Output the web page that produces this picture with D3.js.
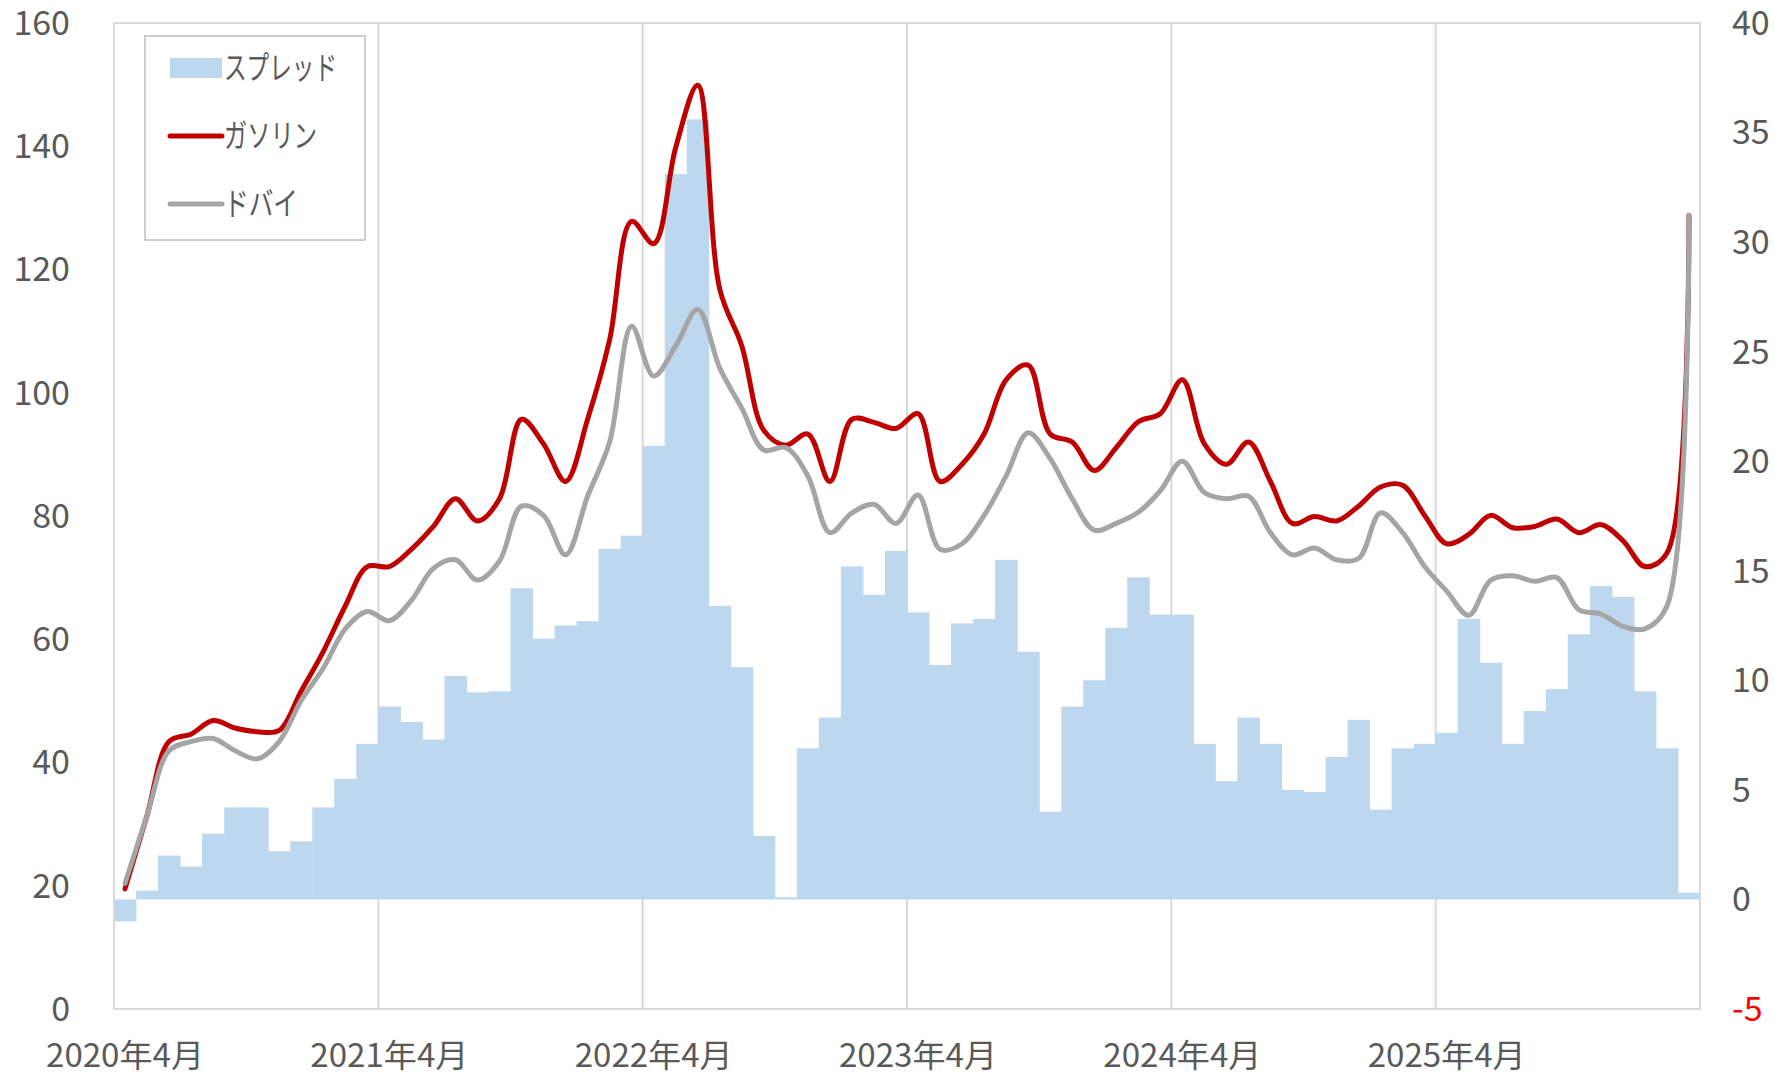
<!DOCTYPE html>
<html>
<head>
<meta charset="utf-8">
<script src="https://cdn.jsdelivr.net/npm/d3@7"></script>
<style>
body { margin: 0; background: #fff; }
text { font-family: "Noto Sans CJK JP", "Noto Sans", sans-serif; fill: #595959; }
</style>
</head>
<body>
<script>
var width = 1775;
var height = 1077;

// months Apr 2020 .. Mar 2026
var months = d3.range(72).map(i => new Date(2020, 3 + i, 1));
var tickLabels = ["2020年4月", "2021年4月", "2022年4月", "2023年4月", "2024年4月", "2025年4月"];

var spread = [
	-1.0, 0.4, 2.0, 1.5, 3.0, 4.2, 4.2, 2.2, 2.65, 4.2, 5.5, 7.1,
	8.8, 8.1, 7.3, 10.2, 9.45, 9.5, 14.2, 11.9, 12.5, 12.7, 16.0, 16.6,
	20.7, 33.1, 35.6, 13.4, 10.6, 2.9, 0.1, 6.9, 8.3, 15.2, 13.9, 15.9,
	13.1, 10.7, 12.6, 12.8, 15.5, 11.3, 4.0, 8.8, 10.0, 12.4, 14.7, 13.0,
	13.0, 7.1, 5.4, 8.3, 7.1, 5.0, 4.9, 6.5, 8.2, 4.1, 6.9, 7.1,
	7.6, 12.8, 10.8, 7.1, 8.6, 9.6, 12.1, 14.3, 13.8, 9.5, 6.9, 0.3
];

var gasoline = [
	19.5, 31.4, 43.4, 44.6, 46.8, 45.6, 45.0, 45.2, 51.6, 58.0, 65.4, 71.8,
	71.8, 74.6, 78.3, 82.8, 79.2, 82.8, 95.7, 91.7, 85.6, 95.7, 108.6, 127.8,
	124.2, 139.8, 149.9, 116.8, 107.6, 93.9, 91.5, 93.3, 85.6, 95.7, 95.2, 94.2,
	96.6, 85.6, 88.4, 93.3, 102.1, 104.5, 93.3, 92.0, 87.4, 91.1, 95.3, 96.6,
	102.1, 91.7, 88.4, 92.0, 85.6, 78.8, 79.9, 79.2, 81.6, 84.7, 85.0, 80.1,
	75.5, 77.0, 80.1, 78.1, 78.3, 79.5, 77.3, 78.6, 76.0, 71.8, 74.0, 128.8
];

var dubai = [
	20.4, 31.4, 41.9, 43.4, 43.9, 41.9, 40.6, 43.4, 50.1, 55.3, 61.7, 64.5,
	63.0, 66.3, 71.5, 72.9, 69.6, 72.7, 81.6, 80.1, 73.7, 83.2, 92.0, 110.8,
	102.7, 107.6, 113.5, 104.0, 97.5, 90.7, 91.1, 86.5, 77.3, 80.5, 81.9, 78.8,
	83.4, 74.6, 75.5, 80.1, 86.5, 93.5, 89.3, 82.8, 77.7, 78.8, 80.6, 84.1,
	88.9, 83.8, 82.8, 83.2, 77.3, 73.7, 74.8, 72.9, 73.1, 80.5, 77.3, 71.8,
	67.8, 63.9, 69.6, 70.3, 69.4, 70.0, 64.8, 64.1, 62.1, 61.7, 65.4, 128.8
];

var leftTicks = [0, 20, 40, 60, 80, 100, 120, 140, 160];
var rightTicks = [-5, 0, 5, 10, 15, 20, 25, 30, 35, 40];

var margin = {left: 114, top: 23, right: 75, bottom: 68};
var plotW = width - margin.left - margin.right;
var plotH = height - margin.top - margin.bottom;

var svg = d3.select("body")
	.append("svg")
	.attr("width", width)
	.attr("height", height);

var g = svg.append("g")
	.attr("transform", "translate(" + margin.left + "," + margin.top + ")");

var x = d3.scaleBand()
	.domain(d3.range(72))
	.range([0, plotW])
	.padding(0);

var yL = d3.scaleLinear().domain([0, 160]).range([plotH, 0]);
var yR = d3.scaleLinear().domain([-5, 40]).range([plotH, 0]);

// vertical grid at year boundaries
g.append("g")
	.selectAll("line")
	.data([12, 24, 36, 48, 60])
	.enter()
	.append("line")
	.attr("x1", d => x(d))
	.attr("x2", d => x(d))
	.attr("y1", 0)
	.attr("y2", plotH)
	.attr("stroke", "#D9D9D9")
	.attr("stroke-width", 2);

// spread bars
g.append("g")
	.selectAll("rect")
	.data(spread)
	.enter()
	.append("rect")
	.attr("x", (d, i) => x(i))
	.attr("width", x.bandwidth() + 0.5)
	.attr("y", d => Math.min(yR(d), yR(0)))
	.attr("height", d => Math.abs(yR(d) - yR(0)))
	.attr("fill", "#BDD7EE");

// plot border
g.append("rect")
	.attr("x", 0)
	.attr("y", 0)
	.attr("width", plotW)
	.attr("height", plotH)
	.attr("fill", "none")
	.attr("stroke", "#D9D9D9")
	.attr("stroke-width", 2);

var line = d3.line()
	.x((d, i) => x(i) + x.bandwidth() / 2)
	.y(d => yL(d))
	.curve(d3.curveCatmullRom.alpha(0.5));

g.append("path")
	.datum(gasoline)
	.attr("d", line)
	.attr("fill", "none")
	.attr("stroke", "#C00000")
	.attr("stroke-width", 5)
	.attr("stroke-linecap", "round")
	.attr("stroke-linejoin", "round");

g.append("path")
	.datum(dubai)
	.attr("d", line)
	.attr("fill", "none")
	.attr("stroke", "#A5A5A5")
	.attr("stroke-width", 5)
	.attr("stroke-linecap", "round")
	.attr("stroke-linejoin", "round");

// left axis labels
g.append("g")
	.selectAll("text")
	.data(leftTicks)
	.enter()
	.append("text")
	.attr("x", -44)
	.attr("y", d => yL(d))
	.attr("dy", "0.35em")
	.attr("text-anchor", "end")
	.attr("font-size", 34)
	.text(d => d);

// right axis labels
g.append("g")
	.selectAll("text")
	.data(rightTicks)
	.enter()
	.append("text")
	.attr("x", plotW + 32)
	.attr("y", d => yR(d))
	.attr("dy", "0.35em")
	.attr("text-anchor", "start")
	.attr("font-size", 34)
	.style("fill", d => d < 0 ? "#FF0000" : "#595959")
	.text(d => d);

// x labels
g.append("g")
	.selectAll("text")
	.data(tickLabels)
	.enter()
	.append("text")
	.attr("x", (d, i) => x(i * 12) + x.bandwidth() / 2)
	.attr("y", plotH + 47)
	.attr("dy", "0.35em")
	.attr("text-anchor", "middle")
	.attr("font-size", 32)
	.attr("textLength", 158)
	.attr("lengthAdjust", "spacingAndGlyphs")
	.text(d => d);

// legend
var legend = g.append("g").attr("transform", "translate(31,13)");
legend.append("rect")
	.attr("width", 220)
	.attr("height", 204)
	.attr("fill", "#fff")
	.attr("stroke", "#BFBFBF")
	.attr("stroke-width", 1.5);

var items = [
	{name: "スプレッド", type: "bar", color: "#BDD7EE", len: 113},
	{name: "ガソリン", type: "line", color: "#C00000", len: 93},
	{name: "ドバイ", type: "line", color: "#A5A5A5", len: 74}
];

var item = legend.selectAll(".item")
	.data(items)
	.enter()
	.append("g")
	.attr("transform", (d, i) => "translate(25," + (32 + i * 68) + ")");

item.filter(d => d.type === "bar")
	.append("rect")
	.attr("x", 0)
	.attr("y", -10)
	.attr("width", 52)
	.attr("height", 20)
	.attr("fill", d => d.color);

item.filter(d => d.type === "line")
	.append("line")
	.attr("x1", 0)
	.attr("x2", 52)
	.attr("stroke", d => d.color)
	.attr("stroke-width", 5)
	.attr("stroke-linecap", "round");

item.append("text")
	.attr("x", 54)
	.attr("dy", "0.35em")
	.attr("font-size", 32)
	.attr("textLength", d => d.len)
	.attr("lengthAdjust", "spacingAndGlyphs")
	.text(d => d.name);
</script>
</body>
</html>
